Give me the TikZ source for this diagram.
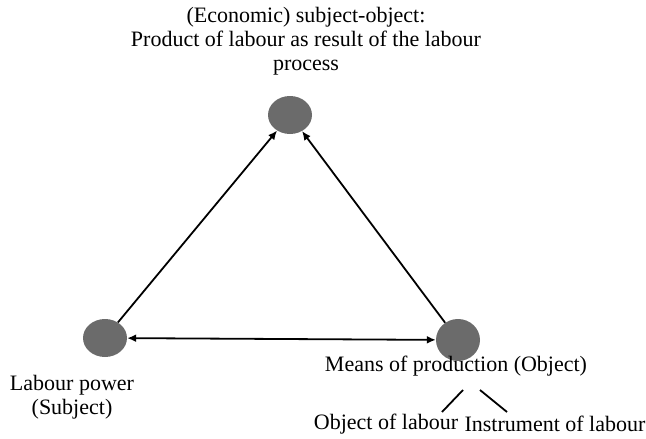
\documentclass[tikz,border=0pt]{standalone}
\usepackage{fontspec}
\setmainfont{Liberation Serif}
\usetikzlibrary{arrows.meta,shapes.geometric}
\begin{document}
\begin{tikzpicture}[x=1pt,y=-1pt,
  dot/.style={ellipse,fill=black!58,minimum width=44pt,minimum height=38pt,inner sep=0pt},
  lbl/.style={font=\fontsize{22}{24}\selectfont,align=center,inner sep=0pt},
  arr/.style={line width=1.8pt,-{Latex[length=9pt,width=8pt]}},
  dbl/.style={line width=1.8pt,{Latex[length=9pt,width=8pt]}-{Latex[length=9pt,width=8pt]}},
  ln/.style={line width=1.8pt}]
\useasboundingbox (0,0) rectangle (646,439);
\node[dot] (top) at (290,115) {};
\node[dot] (left) at (105,338) {};
\node[dot,minimum height=42pt] (right) at (458,340) {};
\node[lbl] (ttxt) at (306,41) {(Economic) subject-object:\\Product of labour as result of the labour\\process};
\node[lbl] (ltxt) at (72,397) {Labour power\\(Subject)};
\node[lbl] (rtxt) at (456,366) {Means of production (Object)};
\node[lbl] (olab) at (386,424) {Object of labour};
\node[lbl] (ilab) at (555,424) {Instrument of labour};
\draw[arr] (left) -- (top);
\draw[arr] (right) -- (top);
\draw[dbl] (left) -- (right);
\coordinate (a1) at (463,390);
\coordinate (a2) at (442,412);
\coordinate (b1) at (480,390);
\coordinate (b2) at (507,412);
\draw[ln] (a1) -- (a2);
\draw[ln] (b1) -- (b2);
\end{tikzpicture}
\end{document}
